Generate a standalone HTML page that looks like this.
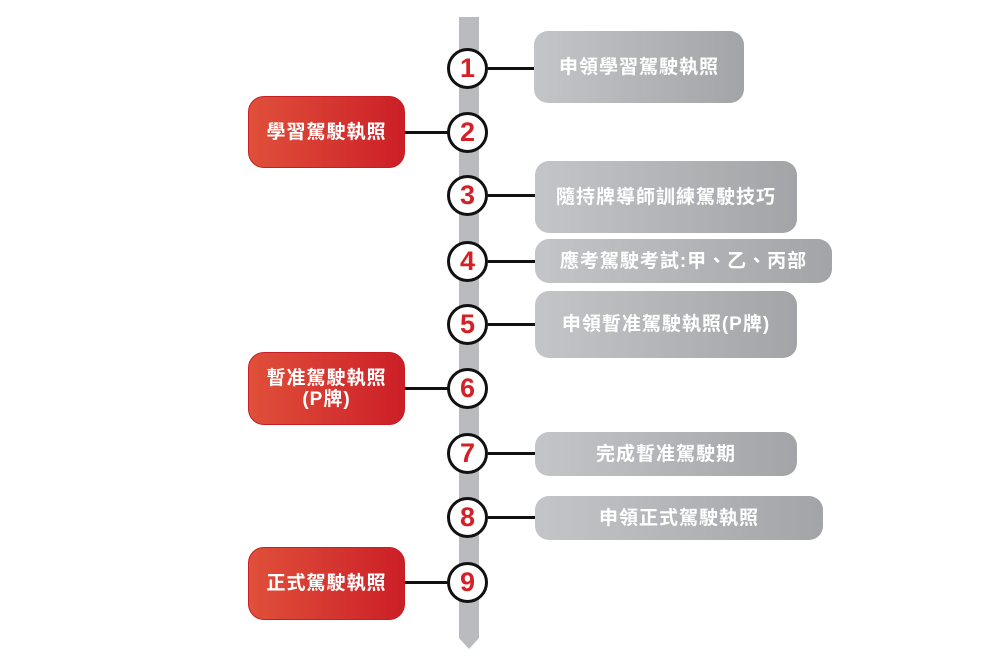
<!DOCTYPE html>
<html><head><meta charset="utf-8"><style>
body{margin:0;width:1000px;height:667px;background:#fff;position:relative;overflow:hidden;font-family:"Liberation Sans","Noto Sans CJK TC",sans-serif;}
.g,.r{position:absolute;display:flex;align-items:center;justify-content:center;color:#fff;font-weight:bold;font-size:19px;letter-spacing:1px;text-align:center;line-height:21px;box-sizing:border-box;}
.g{background:linear-gradient(90deg,#c3c5c8,#a2a4a7);border-radius:14px;}
.r{background:linear-gradient(90deg,#e0503a,#cc1f27);border-radius:16px;border:1px solid #c51e25;left:248px;width:157px;}
.c{position:absolute;width:35px;height:35px;border:3.5px solid #111;border-radius:50%;background:#fff;color:#d42027;font-weight:bold;font-size:27px;display:flex;align-items:center;justify-content:center;left:447px;font-family:"Liberation Sans",sans-serif;}
.l{position:absolute;height:3px;background:#111;}
</style></head><body>
<svg style="position:absolute;left:0;top:0" width="1000" height="667"><polygon points="459,17 479,17 479,638 469,649 459,638" fill="#b9bbbe"/></svg>
<div class="l" style="left:488px;width:48px;top:67px"></div>
<div class="l" style="left:405px;width:44px;top:131px"></div>
<div class="l" style="left:488px;width:48px;top:194px"></div>
<div class="l" style="left:488px;width:48px;top:260px"></div>
<div class="l" style="left:488px;width:48px;top:323px"></div>
<div class="l" style="left:405px;width:44px;top:387px"></div>
<div class="l" style="left:488px;width:48px;top:452px"></div>
<div class="l" style="left:488px;width:48px;top:516px"></div>
<div class="l" style="left:405px;width:44px;top:581px"></div>
<div class="c" style="top:48px">1</div>
<div class="c" style="top:112px">2</div>
<div class="c" style="top:175px">3</div>
<div class="c" style="top:241px">4</div>
<div class="c" style="top:304px">5</div>
<div class="c" style="top:368px">6</div>
<div class="c" style="top:433px">7</div>
<div class="c" style="top:497px">8</div>
<div class="c" style="top:562px">9</div>
<div class="g" style="left:534px;top:31px;width:210px;height:72px">申領學習駕駛執照</div>
<div class="g" style="left:535px;top:161px;width:262px;height:72px">隨持牌導師訓練駕駛技巧</div>
<div class="g" style="left:535px;top:239px;width:297px;height:44px">應考駕駛考試:甲、乙、丙部</div>
<div class="g" style="left:535px;top:291px;width:262px;height:67px">申領暫准駕駛執照(P牌)</div>
<div class="g" style="left:535px;top:432px;width:262px;height:44px">完成暫准駕駛期</div>
<div class="g" style="left:535px;top:496px;width:288px;height:44px">申領正式駕駛執照</div>
<div class="r" style="top:96px;height:72px">學習駕駛執照</div>
<div class="r" style="top:352px;height:73px">暫准駕駛執照<br>(P牌)</div>
<div class="r" style="top:547px;height:73px">正式駕駛執照</div>
</body></html>
